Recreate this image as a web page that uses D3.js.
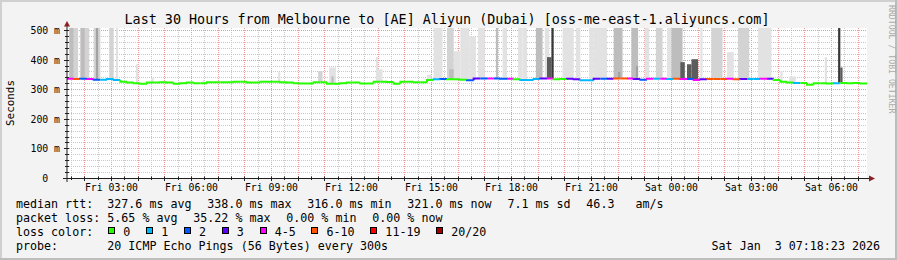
<!DOCTYPE html>
<html><head><meta charset="utf-8">
<script src="https://cdn.jsdelivr.net/npm/d3@7"></script>
<style>html,body{margin:0;padding:0;background:#f3f3f3;}svg{display:block;}text{white-space:pre;}</style>
</head><body><svg id="c" width="897" height="260"></svg>
<script>
// ---------------- data ----------------
const titleText = "Last 30 Hours from Melbourne to [AE] Aliyun (Dubai) [oss-me-east-1.aliyuncs.com]";
const startTime = new Date(2026, 0, 2, 1, 20, 0);
const endTime = new Date(2026, 0, 3, 7, 20, 0);
const sampleMinutes = 15;   // one median value per 15 minutes
const smokeStepMinutes = 5; // smoke steps are 5 minute probe steps

const median = [
  337,336,337,336,334,334,336,333,
  327,324,322,320,324,324,325,324,320,322,324,322,
  322,325,325,325,325,327,327,324,324,327,327,327,
  325,324,322,321,321,325,325,320,320,322,324,324,
  321,321,327,327,326,320,327,327,325,325,333,
  335,336,335,335,334,332,338,338,338,338,337,337,
  335,333,333,336,338,338,335,336,337,335,332,332,
  337,337,337,338,338,338,336,334,337,337,337,336,
  337,336,336,333,335,336,336,336,337,335,336,336,336,337,337,
  333,327,324,323,323,317,322,322,321,322,323,322,323,321
];
const loss = [
  4,7,2,4,2,1,1,1,
  0,0,0,0,0,0,0,0,0,0,0,0,
  0,0,0,0,0,0,0,0,0,0,0,0,
  0,0,0,0,0,0,0,0,0,0,0,0,
  0,0,0,0,0,0,0,0,0,0,0,
  1,2,0,0,0,2,3,2,4,2,2,5,
  0,1,1,1,3,4,0,0,3,3,1,1,
  3,2,3,7,6,4,3,2,5,1,4,1,
  7,4,2,5,3,6,8,6,4,6,3,1,1,5,3,
  0,0,0,1,0,0,0,0,0,1,0,0,0,0
];
// smoke: first 5-min step, end step, highest ping ms, density level
const smokeStart = [1,3,6,8,12,13,19,22,31,38,61,95,113,118,119,139,140,162,165,171,172,174,177,181,185,193,196,203,205,211,215,216,218,223,225,229,235,237,246,248,254,256,260,265,270,272,276,279,281,285,290,297,302,311,321,325,341,347,348];
const smokeEnd   = [3,5,8,10,15,14,21,23,32,39,62,96,115,121,120,140,142,164,169,174,174,177,181,184,188,194,198,205,207,214,217,218,219,225,228,231,237,243,250,249,257,257,262,268,272,277,278,281,284,286,295,300,307,317,322,328,342,348,349];
const smokeTop   = [520,520,520,520,520,520,520,520,386,340,332,359,363,375,345,410,369,350,520,520,369,430,520,480,520,520,520,520,520,520,520,410,520,520,520,520,520,520,520,360,520,380,520,520,520,520,393,386,403,520,520,427,520,520,363,345,410,520,375];
const smokeDensity=[3,2,3,2,2,4,2,1,1,1,1,1,2,1,3,1,1,1,1,2,3,1,1,1,1,3,1,1,1,3,1,5,6,1,1,1,1,1,3,4,3,4,1,2,1,3,5,5,5,1,2,1,2,1,1,1,1,6,5];

const yTicks = [0,100,200,300,400,500];
const yTickLabels = ["0  ","100 m","200 m","300 m","400 m","500 m"];
const lossLabels = ["0","1","2","3","4-5","6-10","11-19","20/20"];
const lossUpper = [0,1,2,3,5,10,19,20];
const lossColors = ["#26ff00","#00b8ff","#0059ff","#5e00ff","#ff00ff","#ff5500","#ff0000","#a00000"];
const rttStats = ["327.6 ms avg","338.0 ms max","316.0 ms min","321.0 ms now","7.1 ms sd","46.3   am/s"];
const lossStats = ["5.65 % avg","35.22 % max","0.00 % min","0.00 % now"];
const probeText = "20 ICMP Echo Pings (56 Bytes) every 300s";
const stampText = "Sat Jan  3 07:18:23 2026";

// ---------------- drawing ----------------
const W = 897, H = 260;
const L = 67, R = 867, T = 28, B = 178.5;
const MONO = "'DejaVu Sans Mono', monospace";
const svg = d3.select("#c");

svg.append("rect").attr("width", W).attr("height", H).attr("fill", "#f3f3f3");
// frame
svg.append("rect").attr("x",0).attr("y",0).attr("width",W).attr("height",2).attr("fill","#d0d0d0");
svg.append("rect").attr("x",0).attr("y",0).attr("width",2).attr("height",H).attr("fill","#d0d0d0");
svg.append("rect").attr("x",0).attr("y",H-2).attr("width",W).attr("height",2).attr("fill","#bdbdbd");
svg.append("rect").attr("x",W-2).attr("y",0).attr("width",2).attr("height",H).attr("fill","#bdbdbd");

const x = d3.scaleTime().domain([startTime, endTime]).range([L, R]);
const y = d3.scaleLinear().domain([0, 500]).range([B, 30.5]);
const crisp = v => Math.floor(v) + 0.5;

svg.append("rect").attr("x", L).attr("y", T).attr("width", R - L).attr("height", B - T).attr("fill", "#ffffff");

svg.append("defs").append("clipPath").attr("id", "clip")
  .append("rect").attr("x", L).attr("y", T).attr("width", R - L).attr("height", B - T);

// grid (below the smoke)
const gridG = svg.append("g");
const halfHours = d3.timeMinute.every(30).range(startTime, endTime);
halfHours.forEach(t => {
  const major = t.getMinutes() === 0;
  const xx = crisp(x(t));
  gridG.append("line").attr("x1", xx).attr("x2", xx).attr("y1", T).attr("y2", B)
    .attr("stroke", major ? "#ec9a9a" : "#c8c8c8").attr("stroke-dasharray", "1,1");
});
d3.range(20, 501, 20).forEach(v => {
  const major = v % 100 === 0;
  const yy = crisp(y(v));
  gridG.append("line").attr("x1", L).attr("x2", R).attr("y1", yy).attr("y2", yy)
    .attr("stroke", major ? "#ec9a9a" : "#c8c8c8").attr("stroke-dasharray", "1,1");
});

const plot = svg.append("g").attr("clip-path", "url(#clip)");

const sampleTime = i => new Date(startTime.getTime() + i * sampleMinutes * 60000);
const stepTime = k => new Date(startTime.getTime() + k * smokeStepMinutes * 60000);
const medianAtStep = k => median[Math.min(median.length - 1, Math.floor(k * smokeStepMinutes / sampleMinutes))];

// smoke
const shade = d3.scaleOrdinal().domain([1,2,3,4,5,6])
  .range(["#e2e2e2","#d3d3d3","#bdbdbd","#a2a2a2","#5c5c5c","#383838"]);
const smokeOrder = d3.range(smokeStart.length).sort((a, b) => smokeDensity[a] - smokeDensity[b]);
plot.selectAll("rect.smoke").data(smokeOrder).join("rect").attr("class", "smoke")
  .attr("x", i => x(stepTime(smokeStart[i])))
  .attr("width", i => x(stepTime(smokeEnd[i])) - x(stepTime(smokeStart[i])))
  .attr("y", i => y(smokeTop[i]))
  .attr("height", i => Math.max(0, y(medianAtStep(smokeStart[i])) - y(smokeTop[i])))
  .attr("fill", i => shade(smokeDensity[i]));

// median line coloured by loss
const lossIdx = l => lossUpper.findIndex(u => l <= u);
median.forEach((m, i) => {
  const prev = i > 0 ? median[i - 1] : m;
  plot.append("path")
    .attr("d", `M${x(sampleTime(i))},${y(prev)}V${y(m)}H${x(sampleTime(i + 1))}`)
    .attr("fill", "none").attr("stroke", lossColors[lossIdx(loss[i])]).attr("stroke-width", 2);
});

// axes
const axisCol = "#1f1f1f", arrowCol = "#8a1f1f";
halfHours.forEach(t => {
  const major = t.getMinutes() === 0;
  const xx = crisp(x(t));
  svg.append("line").attr("x1", xx).attr("x2", xx).attr("y1", 176.5).attr("y2", major ? 181 : 180)
    .attr("stroke", axisCol);
});
d3.range(20, 501, 20).forEach(v => {
  const major = v % 100 === 0;
  const yy = crisp(y(v));
  svg.append("line").attr("x1", major ? 64 : 65).attr("x2", 69).attr("y1", yy).attr("y2", yy).attr("stroke", axisCol);
});
svg.append("line").attr("x1", 63).attr("x2", 870).attr("y1", B).attr("y2", B).attr("stroke", axisCol);
svg.append("line").attr("x1", 67).attr("x2", 67).attr("y1", 182).attr("y2", 25).attr("stroke", axisCol);
svg.append("path").attr("d", "M64,26.5L70,26.5L67,21Z").attr("fill", arrowCol);
svg.append("path").attr("d", "M869,175.5L869,181.5L875,178.5Z").attr("fill", arrowCol);

// axis labels
const xLabelTimes = d3.timeHour.every(3).range(startTime, endTime);
const fmt = d3.timeFormat("%a %H:%M");
svg.selectAll("text.xl").data(xLabelTimes).join("text").attr("class", "xl")
  .attr("x", d => x(d)).attr("y", 191).attr("text-anchor", "middle")
  .attr("font-family", MONO).attr("font-size", "9.8px").attr("fill", "#000").text(d => fmt(d));
svg.selectAll("text.yl").data(yTicks).join("text").attr("class", "yl")
  .attr("x", 60).attr("y", d => y(d) + 3.5).attr("text-anchor", "end")
  .attr("font-family", MONO).attr("font-size", "9.8px").attr("fill", "#000")
  .text((d, i) => yTickLabels[i]);

svg.append("text").attr("transform", "translate(14,103) rotate(-90)").attr("text-anchor", "middle")
  .attr("font-family", MONO).attr("font-size", "10.9px").attr("fill", "#000").text("Seconds");
svg.append("text").attr("transform", "translate(888.5,5) rotate(90)").attr("text-anchor", "start")
  .attr("font-family", MONO).attr("font-size", "8.2px").attr("fill", "#aaaaaa").text("RRDTOOL / TOBI OETIKER");

// title
svg.append("text").attr("x", 447).attr("y", 24).attr("text-anchor", "middle")
  .attr("font-family", MONO).attr("font-size", "13.4px").attr("fill", "#000").text(titleText);

// legend
const LF = "11.66px", gap = 15.8, valX = 107.3;
function label(txt, xx, yy, anchor) {
  return svg.append("text").attr("x", xx).attr("y", yy).attr("text-anchor", anchor || "start")
    .attr("font-family", MONO).attr("font-size", LF).attr("fill", "#000").text(txt);
}
function row(items, yy) {
  let cx = valX;
  items.forEach(s => {
    const t = label(s, cx, yy);
    cx += t.node().getComputedTextLength() + gap;
  });
}
label("median rtt:", 16, 208);
row(rttStats, 208);
label("packet loss:", 16, 222);
row(lossStats, 222);
label("loss color:", 16, 236);
let bx = 108.3;
lossLabels.forEach((lab, i) => {
  svg.append("rect").attr("x", Math.round(bx) + 0.5).attr("y", 227.5).attr("width", 6).attr("height", 6)
    .attr("fill", lossColors[i]).attr("stroke", "#000").attr("stroke-width", 1);
  const t = label(lab, bx + 15, 236);
  bx = bx + 15 + t.node().getComputedTextLength() + gap;
});
label("probe:", 16, 250);
label(probeText, valX, 250);
label(stampText, 880, 250, "end");
</script></body></html>
